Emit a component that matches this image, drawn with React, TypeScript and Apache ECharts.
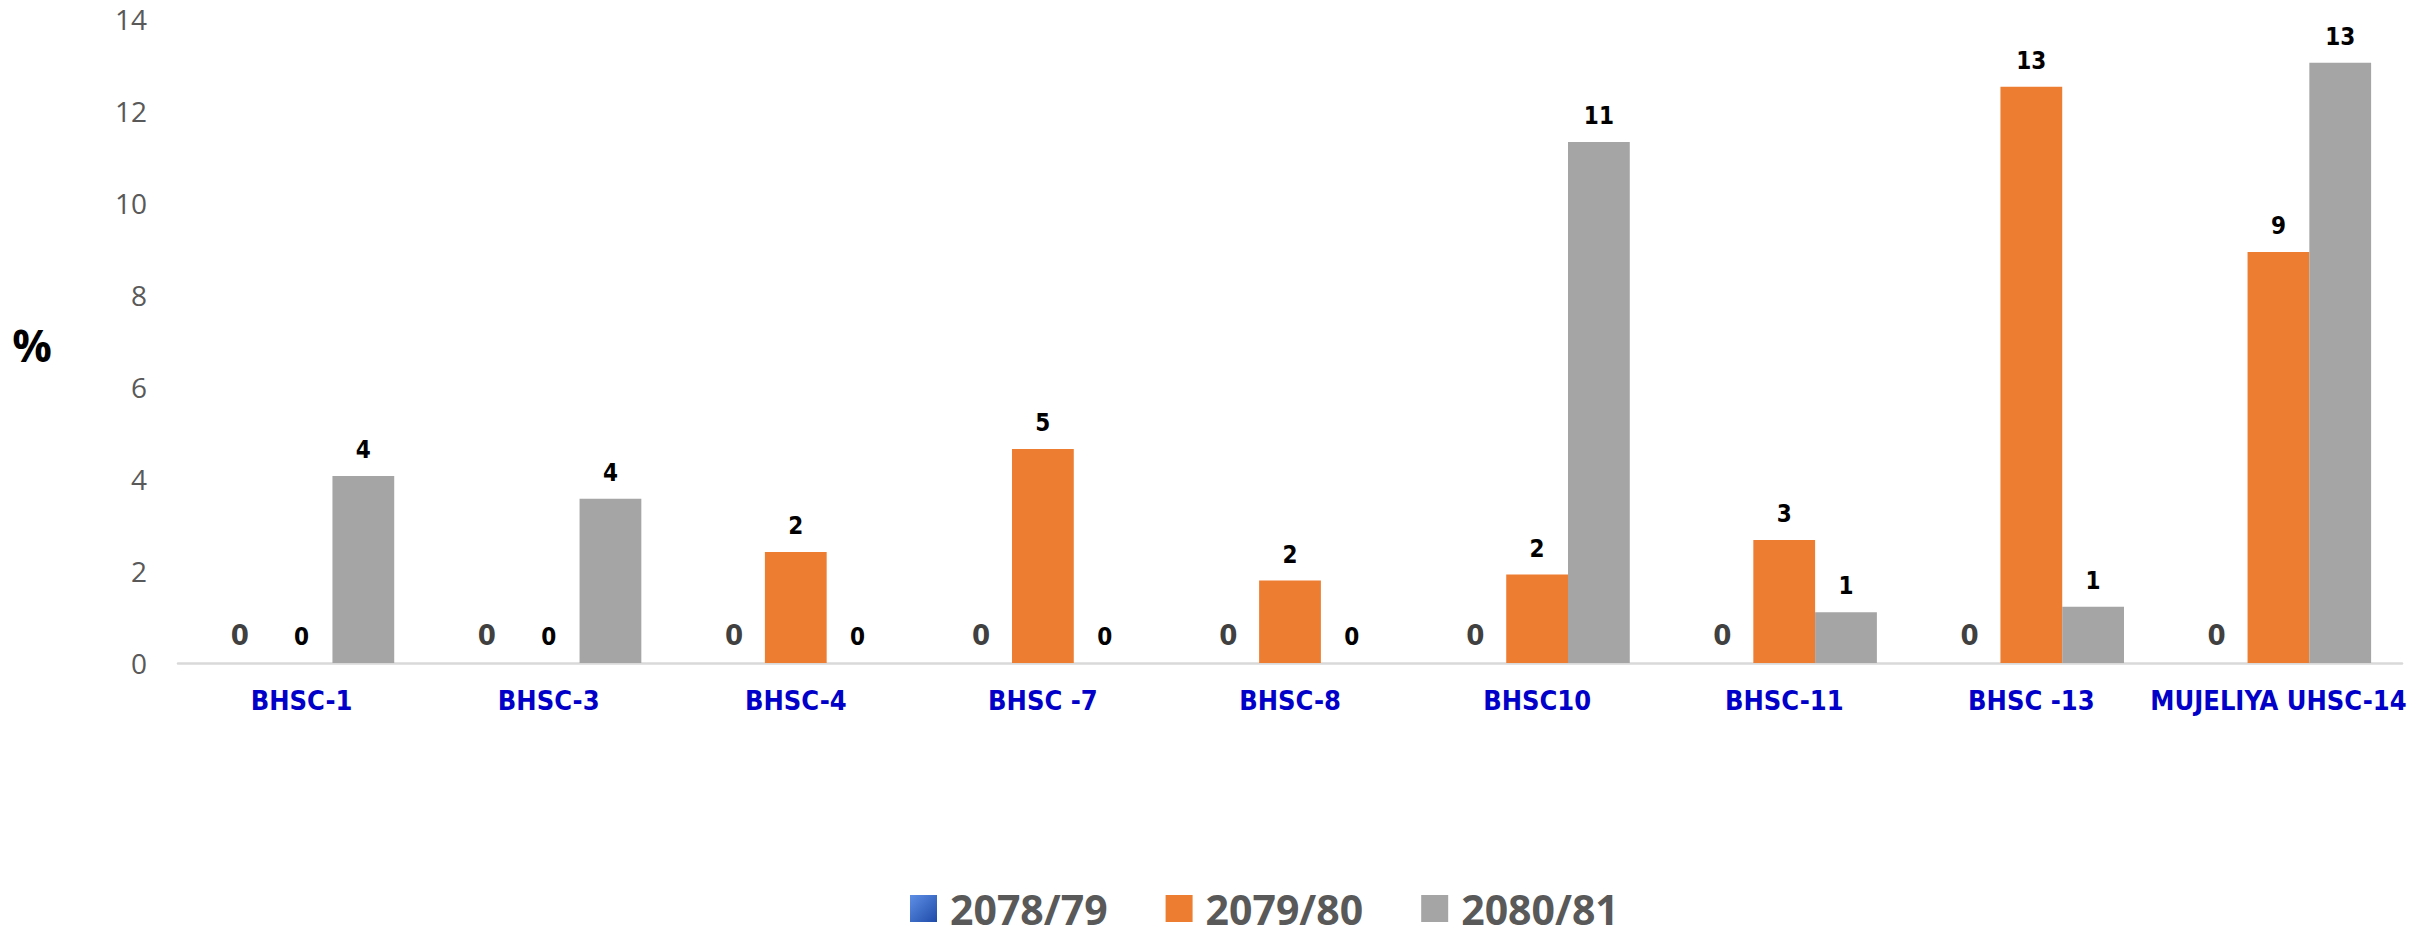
import React, { useEffect, useRef } from "react";
import * as echarts from "echarts";

const categories = [
  "BHSC-1",
  "BHSC-3",
  "BHSC-4",
  "BHSC -7",
  "BHSC-8",
  "BHSC10",
  "BHSC-11",
  "BHSC -13",
  "MUJELIYA UHSC-14",
];
const seriesNames = ["2078/79", "2079/80", "2080/81"];
const values2078 = [0, 0, 0, 0, 0, 0, 0, 0, 0];
const values2079 = [0, 0, 2.41, 4.65, 1.79, 1.92, 2.67, 12.52, 8.93];
const values2080 = [4.06, 3.57, 0, 0, 0, 11.32, 1.1, 1.22, 13.04];
const yMin = 0;
const yMax = 14;
const yInterval = 2;
const yAxisTitle = "%";

const NARROW = "'Liberation Sans Narrow', 'DejaVu Sans Condensed', 'Open Sans', sans-serif";

export default function App() {
  const ref = useRef<HTMLDivElement>(null);
  useEffect(() => {
    if (!ref.current) return;
    const chart = echarts.init(ref.current, undefined, { renderer: "svg" });
    const fmt = (p: any) => String(Math.round(p.value));
    const valueLabel = {
      show: true,
      position: "top",
      distance: 14,
      formatter: fmt,
      color: "#000000",
      fontFamily: NARROW,
      fontWeight: "bold",
      fontSize: 24,
    };
    chart.setOption({
      animation: false,
      backgroundColor: "#ffffff",
      grid: { left: 178, right: 25, top: 18.5, bottom: 276, containLabel: false },
      legend: {
        data: seriesNames,
        left: 910,
        top: 888,
        padding: 0,
        itemWidth: 27,
        itemHeight: 27,
        itemGap: 58,
        icon: "rect",
        textStyle: {
          color: "#595959",
          fontFamily: "'Open Sans', sans-serif",
          fontWeight: "bold",
          fontSize: 41,
          padding: [0, 0, 0, 8],
        },
      },
      graphic: [
        {
          type: "text",
          x: 32,
          y: 345,
          style: {
            text: yAxisTitle,
            fill: "#000000",
            font: "bold 44px 'Open Sans', sans-serif",
            textAlign: "center",
            textVerticalAlign: "middle",
          },
        },
      ],
      xAxis: {
        type: "category",
        data: categories,
        axisLine: { show: true, lineStyle: { color: "#D9D9D9", width: 2.5 } },
        axisTick: { show: false },
        axisLabel: {
          interval: 0,
          color: "#0000C8",
          fontFamily: NARROW,
          fontWeight: "bold",
          fontSize: 27,
          margin: 24,
        },
      },
      yAxis: {
        type: "value",
        min: yMin,
        max: yMax,
        interval: yInterval,
        axisLine: { show: false },
        axisTick: { show: false },
        splitLine: { show: false },
        axisLabel: {
          color: "#595959",
          fontFamily: "'Open Sans', sans-serif",
          fontSize: 28,
          margin: 31,
        },
      },
      series: [
        {
          name: seriesNames[0],
          type: "bar",
          data: values2078,
          barGap: "0%",
          barCategoryGap: "25%",
          itemStyle: {
            color: new echarts.graphic.LinearGradient(0, 0, 1, 1, [
              { offset: 0, color: "#5E8FE6" },
              { offset: 1, color: "#1E4BA8" },
            ]),
          },
          label: {
            ...valueLabel,
            color: "#404040",
            fontSize: 29,
            distance: 14,
          },
        },
        {
          name: seriesNames[1],
          type: "bar",
          data: values2079,
          barGap: "0%",
          barCategoryGap: "25%",
          itemStyle: { color: "#ED7D31" },
          label: valueLabel,
        },
        {
          name: seriesNames[2],
          type: "bar",
          data: values2080,
          barGap: "0%",
          barCategoryGap: "25%",
          itemStyle: { color: "#A5A5A5" },
          label: valueLabel,
        },
      ],
    });
    return () => chart.dispose();
  }, []);
  return (
    <div
      ref={ref}
      style={{ position: "fixed", left: 0, top: 0, width: 2427, height: 939, background: "#fff" }}
    />
  );
}
